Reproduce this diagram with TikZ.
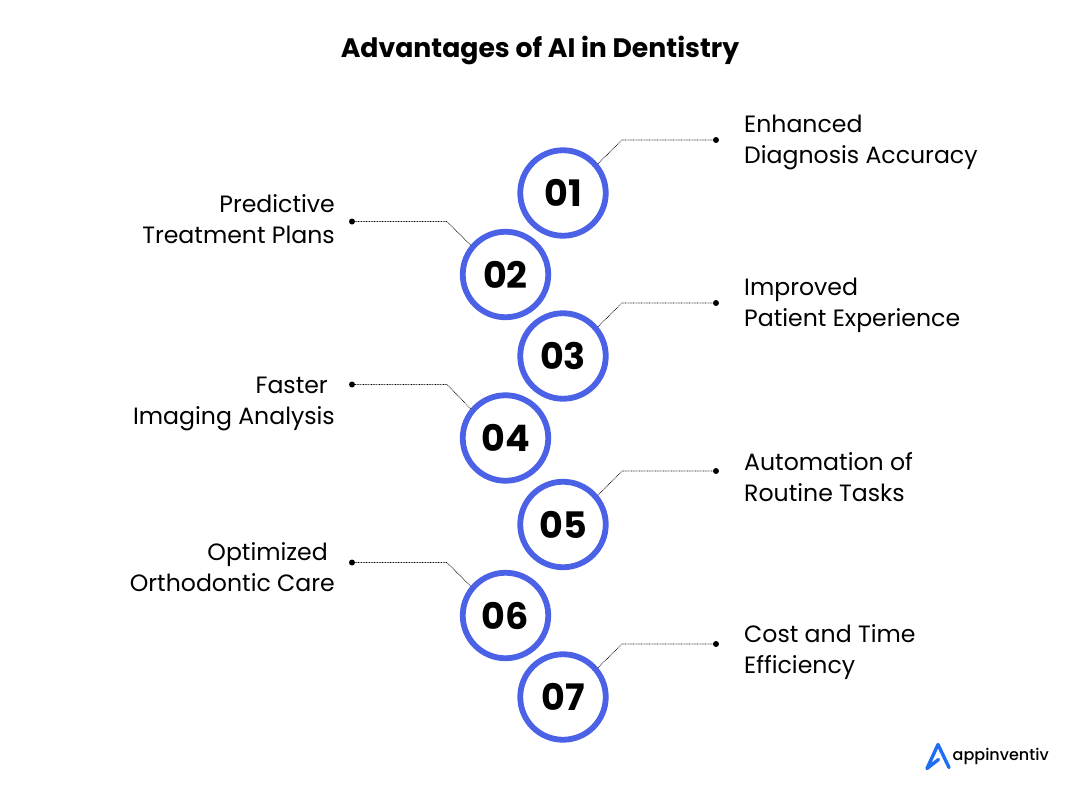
\documentclass[tikz,border=0pt]{standalone}
\usepackage{fontspec}
\setmainfont{Poppins}
\definecolor{ringblue}{HTML}{4B62E6}
\definecolor{logoblue}{HTML}{1F6FF2}
\newcommand{\ringnum}[1]{\raisebox{-1.5pt}{#1}}
\tikzset{x=1pt,y=-1pt,
 ring/.style={circle,draw=ringblue,line width=5.8pt,fill=white,minimum size=85.5pt,inner sep=0pt,font=\fontsize{36.5}{36}\selectfont\bfseries,text=black},
 lab/.style={font=\fontsize{23.6}{31}\selectfont,text=black,inner sep=0pt},
 labl/.style={lab,align=left,anchor=north west},
 labr/.style={lab,align=right,anchor=north east},
 tip/.style={circle,fill=black,minimum size=6pt,inner sep=0pt},
 lead/.style={draw=black,line width=.7pt,dash pattern=on .8pt off .8pt}}
\begin{document}
\begin{tikzpicture}
\useasboundingbox (0,0) rectangle (1080,790);
\fill[white] (0,0) rectangle (1080,790);
\node[inner sep=0pt,font=\fontsize{26.7}{30}\selectfont\bfseries] (title) at (540,50) {Advantages of AI in Dentistry};
\node[ring] (c1) at (563,193) {\ringnum{01}};
\node[ring] (c2) at (505.5,274.5) {\ringnum{02}};
\node[ring] (c3) at (563,356) {\ringnum{03}};
\node[ring] (c4) at (505.5,438) {\ringnum{04}};
\node[ring] (c5) at (563,524.5) {\ringnum{05}};
\node[ring] (c6) at (505.5,615.5) {\ringnum{06}};
\node[ring] (c7) at (563,697) {\ringnum{07}};
\node[tip] (d1) at (716,140) {};
\node[tip] (d2) at (352,221.5) {};
\node[tip] (d3) at (716,303) {};
\node[tip] (d4) at (352,384.5) {};
\node[tip] (d5) at (716,471) {};
\node[tip] (d6) at (352,562.5) {};
\node[tip] (d7) at (716,644) {};
\coordinate (e1) at (622,140);
\coordinate (e2) at (447,221.5);
\coordinate (e3) at (622,303);
\coordinate (e4) at (447,384.5);
\coordinate (e5) at (622,471);
\coordinate (e6) at (447,562.5);
\coordinate (e7) at (622,644);
\foreach \i in {1,3,5,7} \draw[lead] (c\i.40) -- (e\i) -- (d\i);
\foreach \i in {2,4,6} \draw[lead] (c\i.140) -- (e\i) -- (d\i);
\node[labl] (t1) at (744,115) {Enhanced\\Diagnosis Accuracy};
\node[labr] (t2) at (335,194) {Predictive\\Treatment Plans};
\node[labl] (t3) at (744,278) {Improved\\Patient Experience};
\node[labr] (t4) at (335,377) {\mbox{Faster\hspace{7pt}}\\Imaging Analysis};
\node[labl] (t5) at (744,452) {Automation of\\Routine Tasks};
\node[labr] (t6) at (335,542) {\mbox{Optimized\hspace{7pt}}\\Orthodontic Care};
\node[labl] (t7) at (744,624) {Cost and Time\\Efficiency};
\draw[logoblue,line width=3.4pt,line cap=round,line join=round] (949,767.5) -- (938,744.5) -- (927,768.5) -- (938.5,759.5);
\node[inner sep=0pt,anchor=west,font=\fontsize{16}{18}\selectfont\fontspec{Poppins Medium}] (logo) at (952.5,756) {appinventiv};
\end{tikzpicture}
\end{document}
